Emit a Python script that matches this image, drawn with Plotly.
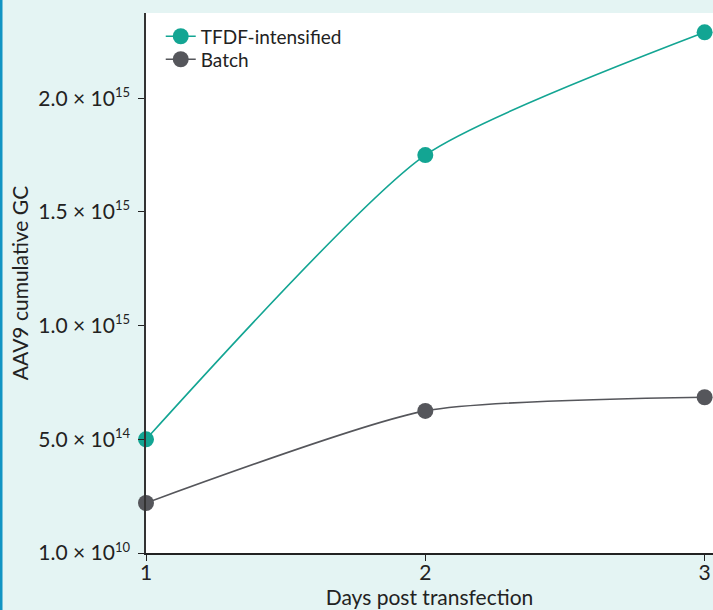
import plotly.graph_objects as go

# Days post transfection and cumulative AAV9 genome copies per process
days = [1, 2, 3]
tfdf_gc = [5.0e14, 1.75e15, 2.29e15]
batch_gc = [2.2e14, 6.25e14, 6.85e14]

# Y-axis ticks
y_tickvals = [1.0e10, 5.0e14, 1.0e15, 1.5e15, 2.0e15]
y_mantissa = ["1.0", "5.0", "1.0", "1.5", "2.0"]
y_exponent = ["10", "14", "15", "15", "15"]
x_tickvals = [1, 2, 3]

y_ticktext = [
    f"{m} × 10<sup><span style='font-size:13px'>{e}</span></sup>"
    for m, e in zip(y_mantissa, y_exponent)
]

TEAL = "#13a593"
GREY = "#55565b"
BG = "#e4f4f3"
FAMILY = "Lato"
INK = "#222222"

W, H = 713, 610
ML, MR, MT, MB = 146, 0, 13, 57

fig = go.Figure()
fig.add_trace(go.Scatter(
    x=days, y=tfdf_gc, name="TFDF-intensified",
    mode="lines+markers",
    line=dict(color=TEAL, width=1.6, shape="spline", smoothing=0.6),
    marker=dict(color=TEAL, size=16),
    cliponaxis=False, legend="legend",
))
fig.add_trace(go.Scatter(
    x=days, y=batch_gc, name="Batch",
    mode="lines+markers",
    line=dict(color=GREY, width=1.6, shape="spline", smoothing=0.6),
    marker=dict(color=GREY, size=16),
    cliponaxis=False, legend="legend2",
))

plot_w = W - ML - MR
plot_h = H - MT - MB

# thin accent bar on the left edge of the page
fig.add_shape(
    type="rect", xref="paper", yref="paper",
    x0=-ML / plot_w, x1=(2.5 - ML) / plot_w,
    y0=-MB / plot_h - 0.01, y1=1 + MT / plot_h + 0.01,
    fillcolor="#1194c3", line=dict(width=0), layer="above",
)

legend_style = dict(
    x=0.026, xanchor="left", yanchor="top",
    bgcolor="rgba(0,0,0,0)",
    font=dict(family=FAMILY, size=19, color=INK),
    itemwidth=30,
)

fig.update_layout(
    width=W, height=H,
    margin=dict(l=ML, r=MR, t=MT, b=MB, pad=0),
    paper_bgcolor=BG,
    plot_bgcolor="white",
    font=dict(family=FAMILY, size=20, color=INK),
    showlegend=True,
    legend=dict(y=0.9919, **legend_style),
    legend2=dict(y=0.9493, **legend_style),
    xaxis=dict(
        range=[1, 3.03],
        tickvals=x_tickvals,
        ticktext=[str(d) for d in x_tickvals],
        ticks="outside", ticklen=6, tickcolor=INK, tickwidth=1.3,
        ticklabelstandoff=-6,
        showline=True, linecolor=INK, linewidth=1.6,
        showgrid=False, zeroline=False,
        tickfont=dict(family=FAMILY, size=21, color=INK),
        title=dict(text="Days post transfection", standoff=6,
                   font=dict(family=FAMILY, size=21, color=INK)),
    ),
    yaxis=dict(
        range=[1.0e10, 2.375e15],
        tickvals=y_tickvals,
        ticktext=y_ticktext,
        ticks="outside", ticklen=6, tickcolor=INK, tickwidth=1.3,
        ticklabelstandoff=4,
        showline=True, linecolor="#333333", linewidth=1.6,
        showgrid=False, zeroline=False,
        tickfont=dict(family=FAMILY, size=21, color=INK),
        title=dict(text="AAV9 cumulative GC", standoff=4,
                   font=dict(family=FAMILY, size=21, color=INK)),
    ),
)

fig.write_html("out.html")
